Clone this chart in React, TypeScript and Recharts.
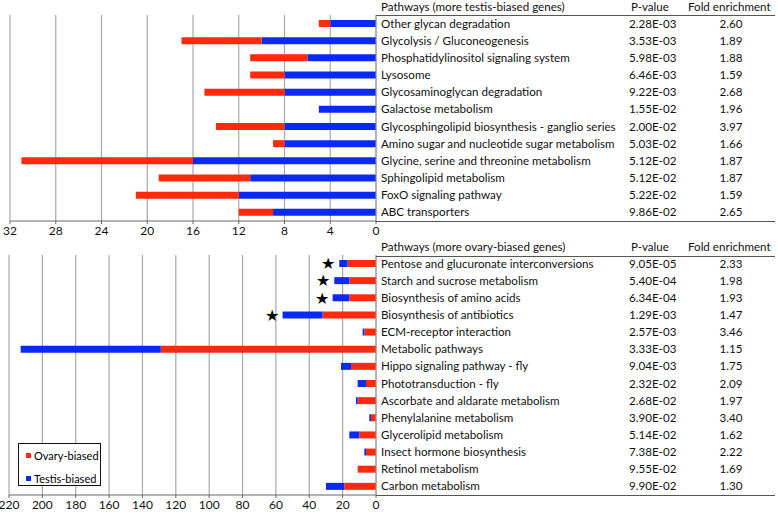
import { BarChart, Bar, XAxis, YAxis, CartesianGrid, Legend, LabelList } from "recharts";

const FONT = "Lato, 'Open Sans', sans-serif";
const RED = "#ff2a0c";
const BLUE = "#0a2af2";

// upper panel: pathways with more testis-biased genes
const testisNames = [
  "Other glycan degradation",
  "Glycolysis / Gluconeogenesis",
  "Phosphatidylinositol signaling system",
  "Lysosome",
  "Glycosaminoglycan degradation",
  "Galactose metabolism",
  "Glycosphingolipid biosynthesis - ganglio series",
  "Amino sugar and nucleotide sugar metabolism",
  "Glycine, serine and threonine metabolism",
  "Sphingolipid metabolism",
  "FoxO signaling pathway",
  "ABC transporters",
];
const testisPValues = ["2.28E-03", "3.53E-03", "5.98E-03", "6.46E-03", "9.22E-03", "1.55E-02", "2.00E-02", "5.03E-02", "5.12E-02", "5.12E-02", "5.22E-02", "9.86E-02"];
const testisFold = ["2.60", "1.89", "1.88", "1.59", "2.68", "1.96", "3.97", "1.66", "1.87", "1.87", "1.59", "2.65"];
const testisBlue = [4, 10, 6, 8, 8, 5, 8, 8, 16, 11, 12, 9];
const testisRed = [1, 7, 5, 3, 7, 0, 6, 1, 15, 8, 9, 3];
const testisTicks = [0, 4, 8, 12, 16, 20, 24, 28, 32];

// lower panel: pathways with more ovary-biased genes
const ovaryNames = [
  "Pentose and glucuronate interconversions",
  "Starch and sucrose metabolism",
  "Biosynthesis of amino acids",
  "Biosynthesis of antibiotics",
  "ECM-receptor interaction",
  "Metabolic pathways",
  "Hippo signaling pathway - fly",
  "Phototransduction - fly",
  "Ascorbate and aldarate metabolism",
  "Phenylalanine metabolism",
  "Glycerolipid metabolism",
  "Insect hormone biosynthesis",
  "Retinol metabolism",
  "Carbon metabolism",
];
const ovaryPValues = ["9.05E-05", "5.40E-04", "6.34E-04", "1.29E-03", "2.57E-03", "3.33E-03", "9.04E-03", "2.32E-02", "2.68E-02", "3.90E-02", "5.14E-02", "7.38E-02", "9.55E-02", "9.90E-02"];
const ovaryFold = ["2.33", "1.98", "1.93", "1.47", "3.46", "1.15", "1.75", "2.09", "1.97", "3.40", "1.62", "2.22", "1.69", "1.30"];
const ovaryRed = [17, 16, 16, 32, 7, 129, 15, 6, 11, 3, 10, 6, 11, 19];
const ovaryBlue = [5, 9, 10, 24, 1, 84, 6, 5, 1, 1, 6, 1, 0, 11];
const ovaryStar = [true, true, true, true, false, false, false, false, false, false, false, false, false, false];
const ovaryTicks = [0, 20, 40, 60, 80, 100, 120, 140, 160, 180, 200, 220];

const testisData = testisNames.map((name, i) => ({ name, testis: testisBlue[i], ovary: testisRed[i] }));
const ovaryData = ovaryNames.map((name, i) => ({
  name,
  ovary: ovaryRed[i],
  testis: ovaryBlue[i],
  star: ovaryStar[i] ? "★" : "",
}));

function tableTick(names: string[], pvals: string[], folds: string[]) {
  return (props: any) => {
    const { x, y, payload } = props;
    const i = names.indexOf(payload.value);
    return (
      <g fontFamily={FONT} fontSize={11.6} fill="#111">
        <text x={x} y={y} dy="0.35em">{payload.value}</text>
        <text x={x + 248} y={y} dy="0.35em">{pvals[i]}</text>
        <text x={x + 350} y={y} dy="0.35em" textAnchor="middle">{folds[i]}</text>
      </g>
    );
  };
}

function Star(props: any) {
  const { x, y, width, height, value } = props;
  if (!value) return null;
  const left = Math.min(x, x + width);
  return (
    <text x={left - 11} y={y + height / 2} dy="0.36em" textAnchor="middle" fontSize={16} fill="#000">
      {value}
    </text>
  );
}

function LegendBox(props: any) {
  const items = props.payload ?? [];
  return (
    <div style={{ border: "1px solid #111", width: 83, height: 43, boxSizing: "border-box", padding: "3px 0 0 7px", fontFamily: FONT, fontSize: 11, background: "#fff", whiteSpace: "nowrap" }}>
      {items.map((it: any) => (
        <div key={it.value} style={{ display: "flex", alignItems: "center", height: 16, marginBottom: 7 }}>
          <span style={{ display: "inline-block", width: 5, height: 5, background: it.color, marginRight: 3 }} />
          {it.value}
        </div>
      ))}
    </div>
  );
}

const hdr = { position: "absolute" as const, fontFamily: FONT, fontSize: 11.6, color: "#111", lineHeight: "14px" };
const rule = (top: number) => ({ position: "absolute" as const, left: 376, width: 399, top, height: 1.5, background: "#555" });

export default function App() {
  return (
    <div style={{ position: "absolute", left: 0, top: 0, width: 778, height: 517, background: "#fff" }}>
      <div style={{ position: "absolute", left: 0, top: 0 }}>
        <BarChart width={778} height={245} data={testisData} layout="vertical" barSize={7} margin={{ top: 15, right: 3, left: 10, bottom: 0 }}>
          <CartesianGrid horizontal={false} stroke="#a8a8a8" strokeWidth={1.2} />
          <XAxis
            type="number"
            domain={[0, 32]}
            ticks={testisTicks}
            reversed
            height={24}
            stroke="#666"
            tickSize={3}
            tick={{ fontSize: 12, fill: "#111", fontFamily: FONT }}
          />
          <YAxis
            type="category"
            dataKey="name"
            orientation="right"
            width={399}
            stroke="#999"
            tickLine={false}
            tickSize={0}
            tickMargin={5}
            interval={0}
            tick={tableTick(testisNames, testisPValues, testisFold)}
          />
          <Bar dataKey="testis" name="Testis-biased" stackId="a" fill={BLUE} isAnimationActive={false} />
          <Bar dataKey="ovary" name="Ovary-biased" stackId="a" fill={RED} isAnimationActive={false} />
        </BarChart>
      </div>

      <div style={{ position: "absolute", left: 0, top: 240 }}>
        <BarChart width={778} height={277} data={ovaryData} layout="vertical" barSize={7} margin={{ top: 15, right: 3, left: 9, bottom: 0 }}>
          <CartesianGrid horizontal={false} stroke="#a8a8a8" strokeWidth={1.2} />
          <XAxis
            type="number"
            domain={[0, 220]}
            ticks={ovaryTicks}
            reversed
            height={22}
            stroke="#666"
            tickSize={3}
            tick={{ fontSize: 12, fill: "#111", fontFamily: FONT }}
          />
          <YAxis
            type="category"
            dataKey="name"
            orientation="right"
            width={399}
            stroke="#999"
            tickLine={false}
            tickSize={0}
            tickMargin={5}
            interval={0}
            tick={tableTick(ovaryNames, ovaryPValues, ovaryFold)}
          />
          <Legend
            layout="horizontal"
            verticalAlign="middle"
            align="center"
            content={LegendBox}
            wrapperStyle={{ position: "absolute", left: 18, top: 203, width: 83, height: 43 }}
          />
          <Bar dataKey="ovary" name="Ovary-biased" stackId="a" fill={RED} isAnimationActive={false} />
          <Bar dataKey="testis" name="Testis-biased" stackId="a" fill={BLUE} isAnimationActive={false}>
            <LabelList dataKey="star" content={Star} />
          </Bar>
        </BarChart>
      </div>

      <div style={{ ...hdr, left: 381, top: 0 }}>Pathways (more testis-biased genes)</div>
      <div style={{ ...hdr, left: 631, top: 0 }}>P-value</div>
      <div style={{ ...hdr, left: 688, top: 0 }}>Fold enrichment</div>
      <div style={rule(14.5)} />
      <div style={rule(220.5)} />

      <div style={{ ...hdr, left: 381, top: 240 }}>Pathways (more ovary-biased genes)</div>
      <div style={{ ...hdr, left: 631, top: 240 }}>P-value</div>
      <div style={{ ...hdr, left: 688, top: 240 }}>Fold enrichment</div>
      <div style={rule(255.5)} />
      <div style={rule(494.5)} />
    </div>
  );
}
